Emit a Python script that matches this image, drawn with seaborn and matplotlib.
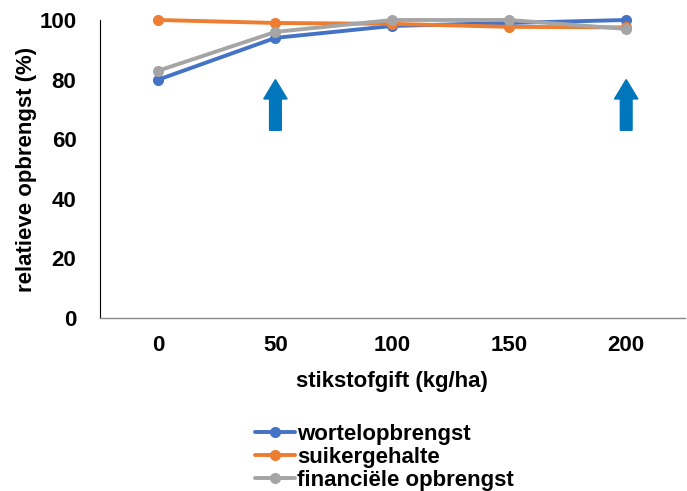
import matplotlib
matplotlib.use("Agg")
import matplotlib.pyplot as plt
import seaborn as sns
import pandas as pd

doses = ["0", "50", "100", "150", "200"]
wortel = [80, 94, 98, 99, 100]
suiker = [100, 99, 98.7, 97.7, 97.5]
financieel = [83, 96, 100, 100, 97]
series_names = ["wortelopbrengst", "suikergehalte", "financiële opbrengst"]
colors = ["#4472C4", "#ED7D31", "#A5A5A5"]
arrow_doses = ["50", "200"]
arrow_from, arrow_to = 63, 80

df = pd.DataFrame({
    "dose": doses * 3,
    "value": wortel + suiker + financieel,
    "series": [s for s in series_names for _ in doses],
})

sns.set_style("white")
plt.rcParams["font.family"] = ["Liberation Sans", "DejaVu Sans"]
plt.rcParams["font.weight"] = "bold"
plt.rcParams["text.color"] = "black"
plt.rcParams["xtick.color"] = "black"
plt.rcParams["ytick.color"] = "black"
plt.rcParams["axes.labelcolor"] = "black"

fs = 16

fig = plt.figure(figsize=(6.87, 4.91), dpi=100)
ax = fig.add_axes([0.1456, 0.3523, 0.851, 0.607])

sns.lineplot(data=df, x="dose", y="value", hue="series", palette=colors,
             marker="o", markersize=8, markeredgewidth=0, linewidth=2.8,
             sort=False, ax=ax, legend=True)
for line in ax.lines:
    line.set_clip_on(False)

# arrows marking the advised doses
for d in arrow_doses:
    xpos = doses.index(d)
    ax.arrow(xpos, arrow_from, 0, arrow_to - arrow_from, width=0.1,
             head_width=0.2, head_length=6.5, length_includes_head=True,
             color="#0077BD", zorder=1)

ax.set_xlim(-0.5, 4.5)
ax.set_ylim(0, 100)
ax.set_yticks([0, 20, 40, 60, 80, 100])
ax.tick_params(axis="both", length=0, labelsize=fs)
ax.tick_params(axis="x", pad=12)
ax.tick_params(axis="y", pad=17)
for lab in ax.get_xticklabels() + ax.get_yticklabels():
    lab.set_fontweight("bold")
ax.set_xlabel("stikstofgift (kg/ha)", fontsize=fs, fontweight="bold", labelpad=11)
ax.set_ylabel("relatieve opbrengst (%)", fontsize=fs, fontweight="bold", labelpad=2)

for side in ["top", "right"]:
    ax.spines[side].set_visible(False)
ax.spines["left"].set_color("#000000")
ax.spines["left"].set_linewidth(0.8)
ax.spines["bottom"].set_color("#888888")
ax.spines["bottom"].set_linewidth(1.0)

handles, labels = ax.get_legend_handles_labels()
ax.get_legend().remove()
fig.legend(handles, labels, loc="upper left", bbox_to_anchor=(0.371, 0.136),
           bbox_transform=fig.transFigure, frameon=False, fontsize=fs,
           handlelength=1.8, handletextpad=0.1, labelspacing=0.08,
           borderpad=0, borderaxespad=0)

fig.savefig("out.png", dpi=100)
